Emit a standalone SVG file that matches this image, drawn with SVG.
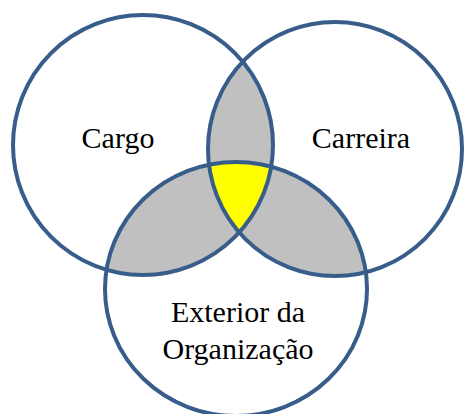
<svg xmlns="http://www.w3.org/2000/svg" width="464" height="414" viewBox="0 0 464 414">
<style>
.ring{fill:none;stroke:#385D8A;stroke-width:4}
.lbl{font-family:"Liberation Serif","Times New Roman",serif;font-size:30px;fill:#000;text-anchor:middle}
</style>
<defs>
<clipPath id="cL"><circle cx="143" cy="145" r="130"/></clipPath>
<clipPath id="cR"><circle cx="335" cy="149" r="127"/></clipPath>
<clipPath id="cB"><ellipse cx="236" cy="289" rx="131" ry="127"/></clipPath>
</defs>
<rect width="464" height="414" fill="#fff"/>
<g id="overlaps">
<circle cx="335" cy="149" r="127" fill="#C0C0C0" clip-path="url(#cL)"/>
<ellipse cx="236" cy="289" rx="131" ry="127" fill="#C0C0C0" clip-path="url(#cL)"/>
<ellipse cx="236" cy="289" rx="131" ry="127" fill="#C0C0C0" clip-path="url(#cR)"/>
<g clip-path="url(#cL)"><ellipse cx="236" cy="289" rx="131" ry="127" fill="#FFFF00" clip-path="url(#cR)"/></g>
</g>
<g id="cargo">
<circle class="ring" cx="143" cy="145" r="130"/>
<text class="lbl" x="118" y="148">Cargo</text>
</g>
<g id="carreira">
<circle class="ring" cx="335" cy="149" r="127"/>
<text class="lbl" x="361" y="148">Carreira</text>
</g>
<g id="exterior">
<ellipse class="ring" cx="236" cy="289" rx="131" ry="127"/>
<text class="lbl" x="238" y="322">Exterior da</text>
<text class="lbl" x="238" y="359">Organização</text>
</g>
</svg>
